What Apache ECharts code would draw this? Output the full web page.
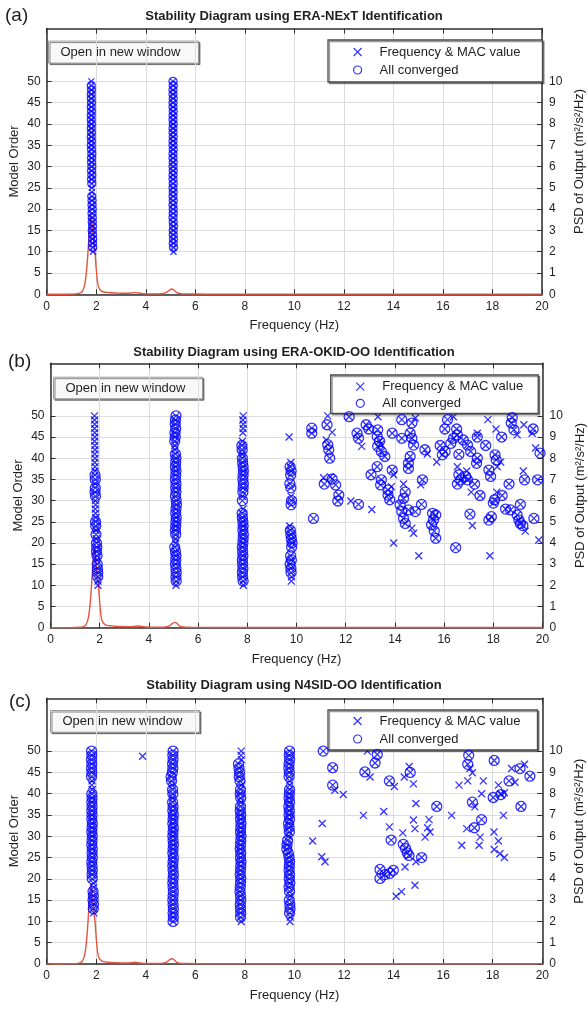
<!DOCTYPE html>
<html>
<head>
<meta charset="utf-8">
<script src="https://cdn.jsdelivr.net/npm/echarts@6/dist/echarts.min.js"></script>
<style>
  html, body { margin: 0; padding: 0; background: #fff; }
  #chart { width: 588px; height: 1009px; }
</style>
</head>
<body>
<div id="chart"></div>
<script>
// ---------- axis ticks ----------
const orderTicks = [0, 5, 10, 15, 20, 25, 30, 35, 40, 45, 50];
const psdTicks = [0, 1, 2, 3, 4, 5, 6, 7, 8, 9, 10];
const orderMax = 62.4;          // headroom above order 50 for the legend
const psdMax = orderMax / 5;    // right axis shares the left axis gridlines

// ---------- output PSD (same record for all three identifications) ----------
const psdFreq = [0, 0.6, 1.0, 1.2, 1.3, 1.4, 1.45, 1.5, 1.55, 1.6,
  1.65, 1.7, 1.75, 1.8, 1.85, 1.9, 1.95, 2.0, 2.05, 2.1,
  2.2, 2.3, 2.45, 2.6, 2.8, 3.0, 3.2, 3.4, 3.55, 3.7,
  3.9, 4.2, 4.5, 4.7, 4.85, 4.95, 5.05, 5.15, 5.25, 5.4,
  5.7, 6.5, 8, 10, 12, 14, 16, 18, 20];
const psdValue = [0, 0, 0.01, 0.02, 0.04, 0.09, 0.16, 0.3, 0.55, 1.0,
  1.7, 2.6, 3.45, 3.72, 3.1, 2.5, 2.0, 1.2, 0.6, 0.32,
  0.16, 0.11, 0.09, 0.07, 0.06, 0.05, 0.05, 0.06, 0.08, 0.06,
  0.03, 0.02, 0.02, 0.04, 0.1, 0.19, 0.25, 0.19, 0.08, 0.03,
  0.02, 0.01, 0.01, 0.01, 0.01, 0.01, 0.01, 0.01, 0.01];

// ---------- (a) ERA-NExT : [frequency Hz, model order] ----------
const aCrossOnly = [[1.87, 10], [1.83, 24], [1.82, 25], [1.80, 50], [5.12, 10]];
const aConverged = [
  [1.86, 11], [1.85, 12], [1.86, 13], [1.85, 14], [1.84, 15], [1.85, 16], [1.84, 17], [1.84, 18], [1.83, 19], [1.84, 20],
  [1.83, 21], [1.83, 22], [1.82, 23], [1.82, 26], [1.81, 27], [1.82, 28], [1.81, 29], [1.82, 30], [1.81, 31], [1.81, 32],
  [1.82, 33], [1.81, 34], [1.80, 35], [1.81, 36], [1.80, 37], [1.81, 38], [1.80, 39], [1.81, 40], [1.80, 41], [1.80, 42],
  [1.81, 43], [1.80, 44], [1.81, 45], [1.80, 46], [1.80, 47], [1.81, 48], [1.80, 49],
  [5.12, 11], [5.11, 12], [5.12, 13], [5.11, 14], [5.11, 15], [5.12, 16], [5.11, 17], [5.10, 18], [5.11, 19], [5.11, 20],
  [5.10, 21], [5.11, 22], [5.10, 23], [5.11, 24], [5.10, 25], [5.11, 26], [5.10, 27], [5.10, 28], [5.11, 29], [5.10, 30],
  [5.11, 31], [5.10, 32], [5.10, 33], [5.11, 34], [5.10, 35], [5.10, 36], [5.11, 37], [5.10, 38], [5.10, 39], [5.11, 40],
  [5.10, 41], [5.10, 42], [5.11, 43], [5.10, 44], [5.10, 45], [5.11, 46], [5.10, 47], [5.10, 48], [5.11, 49], [5.10, 50]
];

// ---------- (b) ERA-OKID-OO ----------
const bCrossOnly = [
  [1.79, 50], [1.79, 49], [1.80, 48], [1.79, 47], [1.80, 46], [1.80, 45], [1.79, 44], [1.80, 43], [1.81, 42], [1.80, 41],
  [1.81, 40], [1.80, 39], [1.81, 38], [1.81, 37], [1.82, 34], [1.82, 30], [1.83, 29], [1.82, 28], [1.83, 27], [1.84, 26],
  [1.85, 23], [1.86, 21], [1.89, 16], [1.93, 11], [1.93, 10],
  [5.10, 10], [5.06, 42], [5.05, 43], [5.08, 21], [5.09, 20],
  [7.83, 50], [7.82, 49], [7.84, 48], [7.83, 47], [7.82, 46], [7.80, 44], [7.79, 41], [7.80, 31], [7.83, 28], [7.84, 10],
  [9.70, 45], [9.77, 39], [9.78, 31], [9.72, 24], [9.80, 12], [9.79, 11],
  [11.27, 50.0], [11.45, 46.1], [11.21, 44.3], [11.10, 35.4], [11.38, 35.6], [12.21, 29.9], [13.06, 27.9], [13.31, 49.8],
  [12.65, 42.8], [13.42, 43.3], [13.95, 36.1], [13.86, 33.3], [13.95, 20.0], [14.97, 17.0], [14.83, 49.5], [14.35, 33.9],
  [14.76, 22.3], [14.69, 23.5], [16.38, 49.8], [17.35, 45.9], [17.78, 49.1], [18.11, 46.9], [18.30, 39.1], [18.16, 38.0],
  [15.70, 39.1], [16.54, 38.0], [16.92, 37.0], [17.10, 32.0], [18.14, 32.0], [19.30, 22.8], [17.15, 24.1], [17.86, 17.0],
  [18.97, 45.5], [19.24, 47.9], [19.58, 45.9], [19.72, 42.4], [19.22, 37.0], [19.85, 20.7], [15.32, 41.0], [15.05, 33.7]
];
const bConverged = [
  [1.81, 36], [1.82, 35], [1.82, 33], [1.81, 32], [1.83, 31], [1.83, 25], [1.84, 24], [1.85, 22], [1.87, 20], [1.88, 19],
  [1.87, 18], [1.89, 17], [1.90, 15], [1.91, 14], [1.92, 13], [1.92, 12],
  [5.10, 50], [5.08, 49], [5.07, 48], [5.09, 47], [5.06, 46], [5.07, 45], [5.05, 44], [5.08, 41], [5.10, 40], [5.09, 39],
  [5.08, 38], [5.10, 37], [5.09, 36], [5.08, 35], [5.10, 34], [5.09, 33], [5.10, 32], [5.08, 31], [5.11, 30], [5.12, 29],
  [5.10, 28], [5.09, 27], [5.11, 26], [5.10, 25], [5.09, 24], [5.08, 23], [5.09, 22], [5.05, 19], [5.08, 18], [5.10, 17],
  [5.09, 16], [5.08, 15], [5.10, 14], [5.11, 13], [5.10, 12], [5.11, 11],
  [7.78, 43], [7.79, 42], [7.80, 40], [7.81, 39], [7.83, 38], [7.84, 37], [7.83, 36], [7.82, 35], [7.84, 34], [7.83, 33],
  [7.82, 32], [7.80, 30], [7.79, 27], [7.80, 26], [7.82, 25], [7.83, 24], [7.82, 23], [7.84, 22], [7.83, 21], [7.82, 20],
  [7.80, 19], [7.81, 18], [7.82, 17], [7.80, 16], [7.81, 15], [7.82, 14], [7.80, 13], [7.81, 12], [7.83, 11],
  [9.74, 38], [9.78, 37], [9.76, 36], [9.73, 34], [9.77, 33], [9.80, 30], [9.78, 29], [9.75, 23], [9.77, 22], [9.79, 21],
  [9.82, 20], [9.80, 19], [9.76, 17], [9.79, 16], [9.74, 15], [9.77, 14], [9.78, 13],
  [10.62, 47.1], [10.62, 45.9], [10.69, 25.8], [11.24, 47.9], [11.27, 43.2], [11.31, 42.0], [11.35, 40.0], [11.13, 33.9],
  [11.45, 35.1], [11.59, 33.7], [11.72, 31.3], [11.68, 29.9], [12.14, 49.8], [12.52, 29.1], [12.46, 45.9], [12.52, 44.7],
  [12.83, 47.9], [12.94, 46.9], [13.30, 46.7], [13.28, 45.1], [13.38, 44.0], [13.30, 42.8], [13.45, 41.6], [13.59, 40.4],
  [13.89, 45.9], [13.28, 38.0], [13.03, 36.1], [13.45, 34.9], [13.42, 33.7], [13.89, 37.2], [13.72, 31.3], [13.79, 30.2],
  [13.72, 32.5], [14.28, 49.1], [14.69, 48.3], [14.62, 45.9], [14.69, 44.7], [14.76, 43.1], [14.62, 40.4], [14.55, 38.8],
  [14.55, 37.6], [14.28, 44.7], [14.21, 29.0], [14.28, 27.4], [14.35, 25.8], [14.42, 24.6], [14.42, 32.0], [14.35, 30.5],
  [14.83, 27.4], [14.55, 27.8],
  [16.14, 49.1], [16.03, 46.9], [16.51, 46.9], [16.54, 45.5], [16.38, 44.7], [16.27, 43.5], [16.78, 44.3], [16.95, 43.1],
  [17.08, 41.6], [17.35, 40.0], [17.32, 38.8], [17.35, 45.0], [17.69, 43.0], [18.34, 45.0], [18.07, 40.8], [18.12, 39.6],
  [15.84, 43.0], [15.93, 40.8], [16.04, 41.6], [16.60, 40.9], [16.60, 36.1], [16.68, 34.9], [16.54, 33.9], [16.88, 35.7],
  [16.95, 34.9], [17.24, 33.9], [17.46, 31.2], [17.82, 37.2], [17.89, 35.7], [18.36, 31.2], [18.05, 30.2], [18.00, 29.4],
  [18.64, 33.9], [18.50, 28.0], [18.70, 27.8], [19.10, 29.1], [18.97, 26.6], [19.04, 25.4], [19.10, 24.6], [19.20, 24.1],
  [19.65, 25.8], [17.82, 25.4], [17.92, 26.2], [17.05, 26.8], [16.47, 18.9], [15.08, 29.1], [15.12, 34.9], [15.53, 27.0],
  [15.66, 26.6], [15.57, 25.4], [15.49, 24.3], [15.60, 22.8], [15.66, 21.1], [18.73, 48.3], [18.77, 49.6], [18.84, 46.7],
  [19.62, 46.9], [19.90, 41.2], [19.27, 34.9], [19.80, 34.9], [15.22, 42.0]
];

// ---------- (c) N4SID-OO ----------
const cCrossOnly = [
  [1.83, 43], [1.82, 42], [1.84, 41], [1.88, 19], [1.90, 18], [1.90, 12], [3.87, 48.8],
  [5.06, 42], [5.07, 39],
  [7.85, 50], [7.84, 49], [7.86, 48], [7.85, 42], [7.84, 38], [7.85, 10],
  [9.80, 43], [9.81, 42], [9.76, 30], [9.83, 16], [9.83, 11], [9.82, 10],
  [11.63, 40.8], [11.97, 39.8], [11.12, 33.0], [10.73, 28.9], [11.10, 25.2], [11.23, 24.0], [12.78, 34.9], [13.05, 43.9],
  [12.94, 50.0], [13.60, 35.8], [14.03, 41.7], [13.83, 32.2], [14.10, 15.9], [14.32, 17.0], [14.43, 43.9], [14.63, 46.4],
  [14.80, 42.3], [14.46, 22.8], [14.80, 33.8], [14.86, 31.8], [14.86, 18.5], [14.90, 37.7], [14.90, 24.0], [14.37, 30.8],
  [15.43, 33.9], [15.37, 32.0], [15.47, 31.0], [15.27, 29.8], [16.34, 34.9], [16.64, 42.0], [16.99, 43.0], [17.08, 45.9],
  [17.18, 44.9], [17.62, 43.0], [17.55, 40.0], [17.28, 36.9], [16.95, 31.8], [16.75, 27.9], [17.45, 27.9], [17.49, 29.8],
  [18.05, 31.0], [18.23, 28.9], [18.06, 26.9], [18.29, 25.9], [18.47, 25.0], [18.23, 42.0], [18.33, 40.0], [18.47, 40.2],
  [18.43, 34.9], [18.76, 45.9], [18.90, 42.7], [19.28, 46.9]
];
const cConverged = [
  [1.81, 50], [1.82, 49], [1.81, 48], [1.82, 47], [1.81, 46], [1.82, 45], [1.81, 44], [1.82, 40], [1.83, 39], [1.82, 38],
  [1.83, 37], [1.82, 36], [1.83, 35], [1.82, 34], [1.84, 33], [1.83, 32], [1.82, 31], [1.84, 30], [1.83, 29], [1.82, 28],
  [1.84, 27], [1.83, 26], [1.84, 25], [1.82, 24], [1.83, 23], [1.84, 22], [1.83, 21], [1.84, 20], [1.87, 17], [1.88, 16],
  [1.87, 15], [1.89, 14], [1.88, 13],
  [5.10, 50], [5.09, 49], [5.10, 48], [5.08, 47], [5.09, 46], [5.07, 45], [5.02, 44], [5.04, 43], [5.08, 41], [5.09, 40],
  [5.08, 38], [5.10, 37], [5.09, 36], [5.11, 35], [5.10, 34], [5.09, 33], [5.11, 32], [5.10, 31], [5.09, 30], [5.10, 29],
  [5.11, 28], [5.10, 27], [5.09, 26], [5.11, 25], [5.10, 24], [5.09, 23], [5.10, 22], [5.11, 21], [5.10, 20], [5.09, 19],
  [5.10, 18], [5.11, 17], [5.10, 16], [5.09, 15], [5.10, 14], [5.11, 13], [5.10, 12], [5.11, 11], [5.10, 10],
  [7.74, 47], [7.76, 46], [7.78, 45], [7.77, 44], [7.80, 43], [7.82, 41], [7.81, 40], [7.83, 39], [7.82, 37], [7.81, 36],
  [7.83, 35], [7.82, 34], [7.84, 33], [7.83, 32], [7.82, 31], [7.84, 30], [7.83, 29], [7.82, 28], [7.81, 27], [7.83, 26],
  [7.82, 25], [7.84, 24], [7.83, 23], [7.82, 22], [7.81, 21], [7.83, 20], [7.82, 19], [7.81, 18], [7.80, 17], [7.82, 16],
  [7.83, 15], [7.81, 14], [7.82, 13], [7.83, 12], [7.82, 11],
  [9.80, 50], [9.79, 49], [9.80, 48], [9.78, 47], [9.77, 46], [9.79, 45], [9.78, 44], [9.80, 41], [9.79, 40], [9.78, 39],
  [9.80, 38], [9.77, 37], [9.79, 36], [9.78, 35], [9.80, 34], [9.76, 33], [9.78, 32], [9.79, 31], [9.72, 29], [9.70, 28],
  [9.69, 27], [9.75, 26], [9.78, 25], [9.80, 24], [9.79, 23], [9.78, 22], [9.80, 21], [9.79, 20], [9.81, 19], [9.78, 18],
  [9.80, 17], [9.79, 15], [9.81, 14], [9.82, 13], [9.80, 12],
  [11.16, 50.0], [11.54, 46.1], [11.54, 42.0], [12.84, 45.1], [13.25, 47.2], [13.34, 49.2], [13.83, 43.0], [13.90, 29.1],
  [13.45, 22.2], [13.45, 20.1], [13.65, 21.0], [13.85, 21.3], [13.99, 22.0], [14.67, 45.0], [14.39, 28.1], [14.48, 27.1],
  [14.55, 26.1], [14.62, 25.5], [15.13, 25.0], [15.74, 37.0], [17.03, 49.0], [16.99, 46.9], [17.18, 38.0], [17.26, 32.0],
  [17.55, 33.9], [18.06, 47.8], [18.02, 39.1], [18.33, 39.8], [18.66, 43.0], [19.10, 45.9], [19.50, 44.1], [19.14, 37.0]
];

// ---------- text ----------
const panelTitles = [
  'Stability Diagram using ERA-NExT Identification',
  'Stability Diagram using ERA-OKID-OO Identification',
  'Stability Diagram using N4SID-OO Identification'
];
const panelTags = ['(a)', '(b)', '(c)'];
const crossName = 'Frequency & MAC value';
const circleName = 'All converged';

// ---------- styling and layout ----------
const FONT = '"Liberation Sans", Arial, sans-serif';
const BLUE = '#0000ff';
const RED = '#e8533f';
const AXIS = '#2e2e2e';
const GRID = '#dcdcdc';
const TEXT = '#1f1f1f';
const CROSS = 'path://M0,0L10,10M10,0L0,10';

const layout = [
  { grid: { left: 46.7, top: 28.6, width: 495.3, height: 265.7 }, titleTop: 9.5, tag: { left: 5, top: 6 },
    legend: { left: 328, top: 40, padding: [5, 22, 5, 25], gap: 4 }, button: { x: 48, y: 40.6, w: 150, h: 22 },
    crossSize: 6, circleSize: 8 },
  { grid: { left: 50.5, top: 363.3, width: 492, height: 264.4 }, titleTop: 346, tag: { left: 8, top: 352 },
    legend: { left: 330.7, top: 375, padding: [4.7, 15, 3, 25], gap: 2.6 }, button: { x: 53, y: 376.7, w: 149, h: 21.6 },
    crossSize: 7, circleSize: 10 },
  { grid: { left: 46.7, top: 698.3, width: 495.6, height: 265.7 }, titleTop: 679, tag: { left: 9, top: 692 },
    legend: { left: 328, top: 710, padding: [4, 17, 4, 25], gap: 4 }, button: { x: 50, y: 710, w: 149, h: 21.7 },
    crossSize: 7, circleSize: 10 }
];
const panelData = [
  [aCrossOnly, aConverged],
  [bCrossOnly, bConverged],
  [cCrossOnly, cConverged]
];

const psdPoints = psdFreq.map((f, k) => [f, psdValue[k]]);
const axisLineStyle = { color: AXIS, width: 1.5 };
const labelStyle = { fontSize: 12, color: TEXT, fontFamily: FONT };
const nameStyle = { fontSize: 13, color: TEXT, fontFamily: FONT };
const markStyle = { color: 'rgba(0,0,255,0)', borderColor: BLUE, borderWidth: 1.3 };

const grids = [], xAxes = [], yAxes = [], series = [], titles = [], legends = [], graphics = [];

layout.forEach((p, i) => {
  // fixed plot boxes: names and labels may sit outside them without shrinking the box
  grids.push(Object.assign({ containLabel: false, outerBoundsMode: 'none' }, p.grid));

  // frequency axis (bottom) and the plain box edge (top)
  xAxes.push({
    type: 'value', gridIndex: i, position: 'bottom', min: 0, max: 20, interval: 2,
    name: 'Frequency (Hz)', nameLocation: 'middle', nameGap: 25, nameTextStyle: nameStyle,
    axisLine: { show: true, onZero: false, lineStyle: axisLineStyle },
    axisTick: { show: true, inside: true, length: 5, lineStyle: { color: AXIS } },
    axisLabel: Object.assign({ margin: 6 }, labelStyle),
    splitLine: { show: true, lineStyle: { color: GRID, width: 1 } }
  });
  xAxes.push({
    type: 'value', gridIndex: i, position: 'top', min: 0, max: 20, interval: 2,
    axisLine: { show: true, onZero: false, lineStyle: axisLineStyle },
    axisTick: { show: true, inside: true, length: 5, lineStyle: { color: AXIS } },
    axisLabel: { show: false }, splitLine: { show: false }
  });

  // model order (left) and PSD (right)
  yAxes.push({
    type: 'value', gridIndex: i, position: 'left', min: 0, max: orderMax, interval: 5,
    name: 'Model Order', nameLocation: 'middle', nameRotate: 90, nameGap: 26, nameTextStyle: nameStyle,
    nameMoveOverlap: false,
    axisLine: { show: true, onZero: false, lineStyle: axisLineStyle },
    axisTick: { show: true, inside: true, length: 5, lineStyle: { color: AXIS }, customValues: orderTicks },
    axisLabel: Object.assign({ margin: 6, customValues: orderTicks }, labelStyle),
    splitLine: { show: true, lineStyle: { color: GRID, width: 1 } }
  });
  yAxes.push({
    type: 'value', gridIndex: i, position: 'right', min: 0, max: psdMax, interval: 1,
    name: 'PSD of Output (m²/s²/Hz)', nameLocation: 'middle', nameRotate: 90, nameGap: 31, nameTextStyle: nameStyle,
    nameMoveOverlap: false,
    axisLine: { show: true, onZero: false, lineStyle: axisLineStyle },
    axisTick: { show: true, inside: true, length: 5, lineStyle: { color: AXIS }, customValues: psdTicks },
    axisLabel: Object.assign({ margin: 7, customValues: psdTicks }, labelStyle),
    splitLine: { show: false }
  });

  const [crossOnly, converged] = panelData[i];
  series.push({
    type: 'line', name: 'PSD', xAxisIndex: 2 * i, yAxisIndex: 2 * i + 1, data: psdPoints,
    showSymbol: false, smooth: 0.25, lineStyle: { color: RED, width: 1.4 }, itemStyle: { color: RED },
    z: 1, silent: true, emphasis: { disabled: true }
  });
  series.push({
    type: 'scatter', name: crossName, xAxisIndex: 2 * i, yAxisIndex: 2 * i,
    data: crossOnly.concat(converged), symbol: CROSS, symbolSize: p.crossSize,
    itemStyle: markStyle, z: 3, silent: true, emphasis: { disabled: true }
  });
  series.push({
    type: 'scatter', name: circleName, xAxisIndex: 2 * i, yAxisIndex: 2 * i,
    data: converged, symbol: 'circle', symbolSize: p.circleSize,
    itemStyle: markStyle, z: 4, silent: true, emphasis: { disabled: true }
  });

  titles.push({
    text: panelTitles[i], left: 'center', top: p.titleTop, padding: 0,
    textStyle: { fontSize: 13, fontWeight: 'bold', color: TEXT, fontFamily: FONT }
  });
  titles.push({
    text: panelTags[i], left: p.tag.left, top: p.tag.top, padding: 0,
    textStyle: { fontSize: 19, fontWeight: 'normal', color: TEXT, fontFamily: FONT }
  });

  legends.push({
    orient: 'vertical', left: p.legend.left, top: p.legend.top, padding: p.legend.padding,
    itemGap: p.legend.gap, itemWidth: 34, itemHeight: 8, selectedMode: false,
    backgroundColor: '#ffffff', borderColor: '#4a4a4a', borderWidth: 1.3,
    shadowColor: 'rgba(0,0,0,0.4)', shadowOffsetX: 1.5, shadowOffsetY: 1.5, shadowBlur: 0,
    textStyle: { fontSize: 13, color: TEXT, fontFamily: FONT, lineHeight: 14 },
    data: [
      { name: crossName, icon: CROSS, itemStyle: { color: 'rgba(0,0,0,0)', borderColor: BLUE, borderWidth: 1.2 } },
      { name: circleName, icon: 'circle', itemStyle: { color: 'rgba(0,0,0,0)', borderColor: BLUE, borderWidth: 1.2 } }
    ]
  });

  const b = p.button;
  graphics.push({
    type: 'group', left: b.x, top: b.y, silent: true,
    children: [
      { type: 'rect', shape: { x: 0, y: 0, width: b.w, height: b.h },
        style: { fill: '#f8f8f8', stroke: '#9a9a9a', lineWidth: 1,
                 shadowColor: 'rgba(0,0,0,0.45)', shadowOffsetX: 1.5, shadowOffsetY: 1.5, shadowBlur: 0 } },
      { type: 'text', x: 12, y: b.h / 2,
        style: { text: 'Open in new window', font: '13px ' + FONT, fill: TEXT, verticalAlign: 'middle', align: 'left' } }
    ]
  });
});

const chart = echarts.init(document.getElementById('chart'), null, { renderer: 'canvas' });
chart.setOption({
  animation: false,
  backgroundColor: '#ffffff',
  title: titles,
  legend: legends,
  grid: grids,
  xAxis: xAxes,
  yAxis: yAxes,
  series: series,
  graphic: graphics
});
</script>
</body>
</html>
